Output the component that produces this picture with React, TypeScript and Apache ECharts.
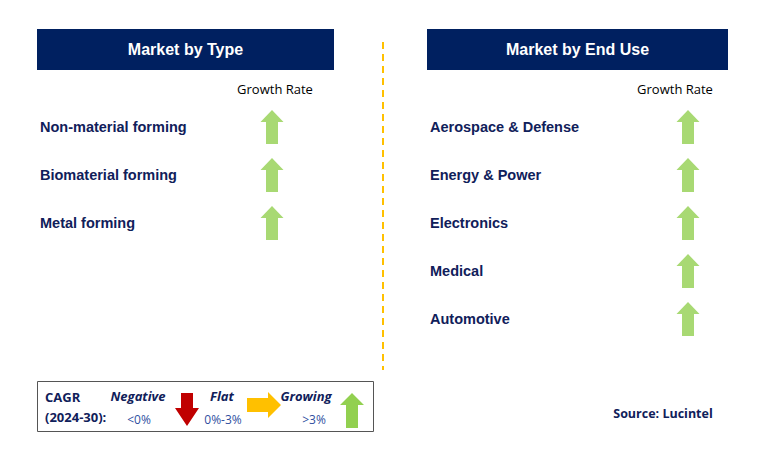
import React, { useEffect, useRef } from "react";
import * as echarts from "echarts";

const typeSegments = ["Non-material forming", "Biomaterial forming", "Metal forming"];
const typeGrowth = ["growing", "growing", "growing"];
const endUseSegments = ["Aerospace & Defense", "Energy & Power", "Electronics", "Medical", "Automotive"];
const endUseGrowth = ["growing", "growing", "growing", "growing", "growing"];
const growthColumn = ["Growth Rate"];
const legendItems = [
  { name: "Negative", range: "<0%" },
  { name: "Flat", range: "0%-3%" },
  { name: "Growing", range: ">3%" },
];

const NAVY = "#002060";
const TEXT_NAVY = "#10205a";
const GREEN = "#92d050";
const RED = "#c00000";
const YELLOW = "#ffc000";

const UP_ARROW = "path://M11.5,0 L23,12 L17.5,12 L17.5,34 L5.5,34 L5.5,12 L0,12 Z";
const DOWN_ARROW = "path://M5.5,0 L17.5,0 L17.5,22 L23,22 L11.5,34 L0,22 L5.5,22 Z";
const RIGHT_ARROW = "path://M0,5 L22,5 L22,0 L34,12 L22,24 L22,19 L0,19 Z";
const symbolFor: Record<string, string> = { growing: UP_ARROW, negative: DOWN_ARROW, flat: RIGHT_ARROW };
const colorFor: Record<string, string> = { growing: GREEN, negative: RED, flat: YELLOW };

export default function App() {
  const ref = useRef<HTMLDivElement>(null);
  useEffect(() => {
    const chart = echarts.init(ref.current!, null, { renderer: "svg" });
    const mkSeries = (segs: string[], growth: string[], idx: number) => ({
      type: "scatter",
      xAxisIndex: idx,
      yAxisIndex: idx,
      silent: true,
      data: segs.map((s, i) => ({
        value: [growthColumn[0], s],
        symbol: symbolFor[growth[i]],
        itemStyle: { color: colorFor[growth[i]] },
      })),
      symbolSize: [23, 34],
    });
    const xAxisCommon = {
      type: "category",
      data: growthColumn,
      position: "top",
      axisLine: { show: false },
      axisTick: { show: false },
      splitLine: { show: false },
    };
    const xLabel = { color: "#000", fontSize: 13, fontFamily: "Open Sans", margin: 8 };
    const yAxisCommon = {
      type: "category",
      inverse: true,
      axisLine: { show: false },
      axisTick: { show: false },
      splitLine: { show: false },
    };
    const yLabel = {
      color: TEXT_NAVY,
      fontSize: 14.5,
      fontWeight: "bold",
      fontFamily: "Liberation Sans",
      align: "left",
      padding: [3, 0, 0, 0],
    };
    const legendX = [138, 222, 306];
    const legendRangeX = [139, 223, 314];
    const graphic: any[] = [
      { type: "rect", shape: { x: 37, y: 29, width: 297, height: 41 }, style: { fill: NAVY } },
      { type: "text", x: 185.5, y: 49.5, style: { text: "Market by Type", fill: "#fff", font: "bold 16px 'Liberation Sans'", align: "center", verticalAlign: "middle" } },
      { type: "rect", shape: { x: 427, y: 29, width: 301, height: 41 }, style: { fill: NAVY } },
      { type: "text", x: 577.5, y: 49.5, style: { text: "Market by End Use", fill: "#fff", font: "bold 16px 'Liberation Sans'", align: "center", verticalAlign: "middle" } },
      { type: "line", shape: { x1: 383, y1: 42, x2: 383, y2: 370 }, style: { stroke: YELLOW, lineWidth: 2, lineDash: [7, 5] } },
      { type: "rect", shape: { x: 37.5, y: 381.5, width: 336, height: 50 }, style: { fill: "#fff", stroke: "#555", lineWidth: 1 } },
      { type: "text", x: 45, y: 397, style: { text: "CAGR", fill: TEXT_NAVY, font: "bold 13px 'Open Sans'", verticalAlign: "middle" } },
      { type: "text", x: 45, y: 417, style: { text: "(2024-30):", fill: TEXT_NAVY, font: "bold 13px 'Open Sans'", verticalAlign: "middle" } },
      { type: "polygon", shape: { points: [[181, 393], [193, 393], [193, 408], [199, 408], [187, 426], [175, 408], [181, 408]] }, style: { fill: RED } },
      { type: "polygon", shape: { points: [[247, 398], [268, 398], [268, 392], [281, 405], [268, 418], [268, 412], [247, 412]] }, style: { fill: YELLOW } },
      { type: "polygon", shape: { points: [[352, 393], [364, 405], [358, 405], [358, 428], [346, 428], [346, 405], [340, 405]] }, style: { fill: GREEN } },
      { type: "text", x: 663, y: 413, style: { text: "Source: Lucintel", fill: TEXT_NAVY, font: "bold 12.5px 'Open Sans'", align: "center", verticalAlign: "middle" } },
    ];
    legendItems.forEach((it, i) => {
      graphic.push({ type: "text", x: legendX[i], y: 396, style: { text: it.name, fill: TEXT_NAVY, font: "italic bold 13px 'Open Sans'", align: "center", verticalAlign: "middle" } });
      graphic.push({ type: "text", x: legendRangeX[i], y: 419, style: { text: it.range, fill: "#2f4f9f", font: "12px 'Open Sans'", align: "center", verticalAlign: "middle" } });
    });
    chart.setOption({
      animation: false,
      grid: [
        { left: 260, top: 103, width: 24, height: 144 },
        { left: 676, top: 103, width: 24, height: 240 },
      ],
      xAxis: [
        { ...xAxisCommon, gridIndex: 0, axisLabel: { ...xLabel, padding: [0, 0, 0, 6] } },
        { ...xAxisCommon, gridIndex: 1, axisLabel: { ...xLabel, padding: [0, 26, 0, 0] } },
      ],
      yAxis: [
        { ...yAxisCommon, gridIndex: 0, data: typeSegments, axisLabel: { ...yLabel, margin: 220 } },
        { ...yAxisCommon, gridIndex: 1, data: endUseSegments, axisLabel: { ...yLabel, margin: 246 } },
      ],
      series: [mkSeries(typeSegments, typeGrowth, 0), mkSeries(endUseSegments, endUseGrowth, 1)],
      graphic,
    });
    return () => chart.dispose();
  }, []);
  return <div ref={ref} style={{ width: 782, height: 454, position: "absolute", left: 0, top: 0 }} />;
}
